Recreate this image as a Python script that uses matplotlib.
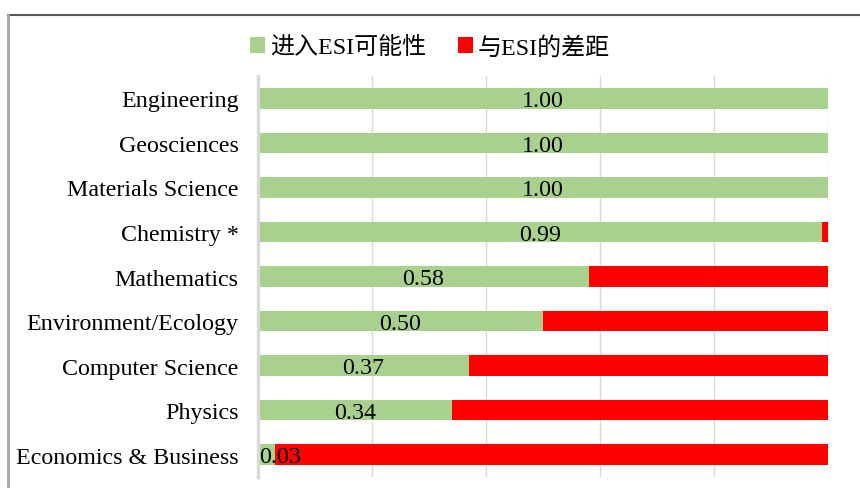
import matplotlib
matplotlib.use('Agg')
import matplotlib.pyplot as plt
from matplotlib.lines import Line2D
from matplotlib.patches import Patch

# data, top to bottom as in the chart
subjects = ['Engineering', 'Geosciences', 'Materials Science', 'Chemistry *',
            'Mathematics', 'Environment/Ecology', 'Computer Science',
            'Physics', 'Economics & Business']
prob = [1.00, 1.00, 1.00, 0.99, 0.58, 0.50, 0.37, 0.34, 0.03]
gap = [round(1 - p, 2) for p in prob]
legend_names = ['进入ESI可能性', '与ESI的差距']

green = '#A9D18E'
red = '#FF0000'
grid_c = '#D9D9D9'
fs = 17.3

plt.rcParams['font.family'] = ['Liberation Serif', 'Noto Sans CJK SC']

fig = plt.figure(figsize=(8.6, 4.89), dpi=100)
ax = fig.add_axes([258/860, 1 - 478/489, 570/860, 401/489])

ypos = list(range(len(subjects)))
ax.barh(ypos, prob, height=0.46, color=green, zorder=3)
ax.barh(ypos, gap, left=prob, height=0.46, color=red, zorder=3)

for y, p in zip(ypos, prob):
    if p > 0.1:
        ax.text(p / 2, y + 0.05, f'{p:.2f}', ha='center', va='center', fontsize=fs, zorder=4)
    else:
        ax.text(0.002, y + 0.05, f'{p:.2f}', ha='left', va='center', fontsize=fs, zorder=4)

ax.set_xlim(0, 1)
ax.set_ylim(len(subjects) - 0.5, -0.5)
ax.set_yticks(ypos)
ax.set_yticklabels(subjects, fontsize=fs)
ax.set_xticks([0.2, 0.4, 0.6, 0.8, 1.0])
ax.tick_params(axis='x', length=0, labelbottom=False)
ax.tick_params(axis='y', length=0, pad=14)
ax.grid(axis='x', color=grid_c, linewidth=1, zorder=0)
for s in ['top', 'right', 'bottom']:
    ax.spines[s].set_visible(False)
ax.spines['left'].set_color(grid_c)
ax.spines['left'].set_linewidth(2.5)
ax.spines['left'].set_zorder(5)

handles = [Patch(facecolor=green, edgecolor='none'), Patch(facecolor=red, edgecolor='none')]
fig.legend(handles, legend_names, loc='center', bbox_to_anchor=(0.5, 1 - 48/489),
           ncol=2, frameon=False, fontsize=fs, handlelength=0.6, handleheight=0.6,
           handletextpad=0.2, columnspacing=1.35)

# outer chart border (top and left visible)
fig.add_artist(Line2D([8/860, 1], [1 - 16/489, 1 - 16/489], color='#595959', linewidth=1.5))
fig.add_artist(Line2D([8/860, 8/860], [0, 1 - 16/489], color='#A6A6A6', linewidth=2))

fig.savefig('out.png', dpi=100)
